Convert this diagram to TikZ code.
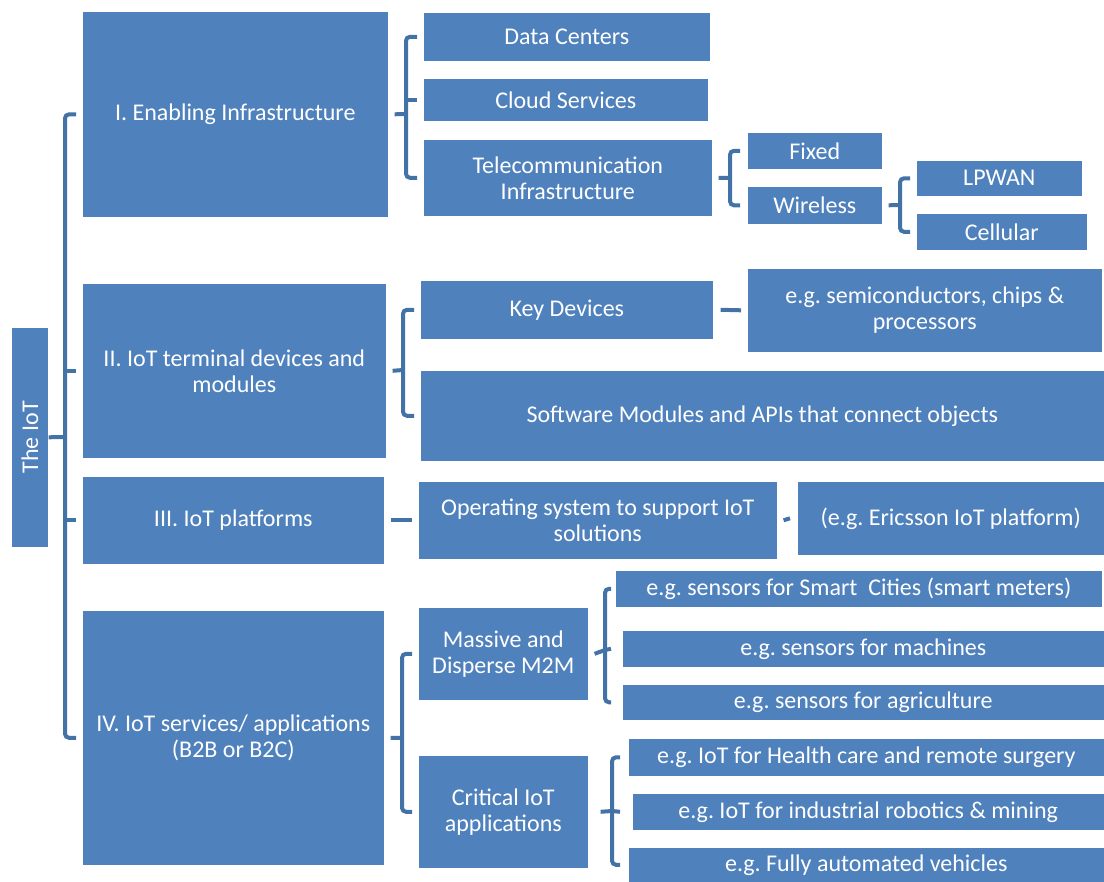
\documentclass[tikz,border=0pt]{standalone}
\usepackage{fontspec}
\setmainfont{Carlito}
\frenchspacing
\definecolor{cajaazul}{RGB}{79,129,189}
\definecolor{lineaazul}{RGB}{66,114,166}

\begin{document}
\begin{tikzpicture}[x=1pt,y=-1pt,
    caja/.style={fill=cajaazul,draw=white,line width=.6pt,text=white,align=center,
        anchor=north west,inner sep=0pt,font=\fontsize{24}{26}\selectfont},
    llave/.style={draw=lineaazul,line width=4pt,rounded corners=4pt}]
    \useasboundingbox (0,0) rectangle (1104,882);

    % Raiz y primer nivel.
    \node[caja,minimum width=37pt,minimum height=220pt] (iot) at (11,327) {};
    \node[white,rotate=90,font=\fontsize{24}{26}\selectfont] (iottxt) at (iot.center) {The IoT};
    \node[caja,minimum width=306pt,minimum height=206pt] (infra) at (82,11) {I. Enabling Infrastructure};
    \node[caja,minimum width=304pt,minimum height=175pt] (term) at (82,283) {II. IoT terminal devices and\\modules};
    \node[caja,minimum width=302pt,minimum height=88pt] (plat) at (82,476) {III. IoT platforms};
    \node[caja,minimum width=302pt,minimum height=255pt] (serv) at (82,610) {IV. IoT services/ applications\\(B2B or B2C)};

    % Infraestructura.
    \node[caja,minimum width=287pt,minimum height=49pt] (dc) at (423,12) {Data Centers};
    \node[caja,minimum width=285pt,minimum height=43pt] (cloud) at (423,78) {Cloud Services};
    \node[caja,minimum width=289pt,minimum height=77pt] (tele) at (423,139) {Telecommunication\\Infrastructure};
    \node[caja,minimum width=135pt,minimum height=37pt] (fixed) at (747,132) {Fixed};
    \node[caja,minimum width=135pt,minimum height=38pt] (wless) at (747,186) {Wireless};
    \node[caja,minimum width=166pt,minimum height=36pt] (lpwan) at (916,160) {LPWAN};
    \node[caja,minimum width=171pt,minimum height=37pt] (cell) at (916,213) {Cellular};

    % Dispositivos y modulos.
    \node[caja,minimum width=293pt,minimum height=59pt] (keydev) at (420,280) {Key Devices};
    \node[caja,minimum width=355pt,minimum height=84pt] (semi) at (747,268) {e.g. semiconductors, chips \&\\processors};
    \node[caja,minimum width=684pt,minimum height=91pt] (soft) at (420,370) {Software Modules and APIs that connect objects};

    % Plataformas.
    \node[caja,minimum width=359pt,minimum height=78pt] (os) at (418,481) {Operating system to support IoT\\solutions};
    \node[caja,minimum width=307pt,minimum height=74pt] (eric) at (797,481) {(e.g. Ericsson IoT platform)};

    % Servicios y aplicaciones.
    \node[caja,minimum width=170pt,minimum height=93pt] (m2m) at (418,607) {Massive and\\Disperse M2M};
    \node[caja,minimum width=487pt,minimum height=37pt] (city) at (615,570) {e.g. sensors for Smart~~Cities (smart meters)};
    \node[caja,minimum width=482pt,minimum height=37pt] (mach) at (622,630) {e.g. sensors for machines};
    \node[caja,minimum width=482pt,minimum height=36pt] (agri) at (622,684) {e.g. sensors for agriculture};
    \node[caja,minimum width=170pt,minimum height=113pt] (crit) at (418,755) {Critical IoT\\applications};
    \node[caja,minimum width=476pt,minimum height=38pt] (health) at (628,738) {e.g. IoT for Health care and remote surgery};
    \node[caja,minimum width=472pt,minimum height=37pt] (robot) at (632,793) {e.g. IoT for industrial robotics \& mining};
    \node[caja,minimum width=476pt,minimum height=35pt] (auto) at (628,847) {e.g. Fully automated vehicles};

    % Llaves.
    \coordinate (kraiz) at (65,437);
    \draw[llave] (iot.east) -- (kraiz);
    \draw[llave] ([xshift=-6pt]infra.west) -| (kraiz) |- ([xshift=-6pt]serv.west);
    \foreach \n in {term,plat}
        \draw[llave] (kraiz |- \n.west) -- ([xshift=-6pt]\n.west);

    \coordinate (kinfra) at (406,114);
    \draw[llave] ([xshift=6pt]infra.east) -- (kinfra);
    \draw[llave] ([xshift=-6pt]dc.west) -| (kinfra) |- ([xshift=-6pt]tele.west);
    \draw[llave] (kinfra |- cloud.west) -- ([xshift=-6pt]cloud.west);

    \coordinate (ktele) at (730,178);
    \draw[llave] ([xshift=6pt]tele.east) -- (ktele);
    \draw[llave] ([xshift=-7pt]fixed.west) -| (ktele) |- ([xshift=-7pt]wless.west);

    \coordinate (kwless) at (900,205);
    \draw[llave] ([xshift=6pt]wless.east) -- (kwless);
    \draw[llave] ([xshift=-6pt]lpwan.west) -| (kwless) |- ([xshift=-6pt]cell.west);

    \coordinate (kterm) at (403,370);
    \draw[llave] ([xshift=6pt]term.east) -- (kterm);
    \draw[llave] ([xshift=-6pt]keydev.west) -| (kterm) |- ([xshift=-6pt]soft.west);
    \draw[llave] ([xshift=7pt]keydev.east) -- ([xshift=-6pt]semi.west);

    \draw[llave] ([xshift=6pt]plat.east) -- ([xshift=-6pt]os.west);
    \draw[llave] ([xshift=6pt]os.east) -- ([xshift=-7pt]eric.west);

    \coordinate (kserv) at (402,738);
    \draw[llave] ([xshift=6pt]serv.east) -- (kserv);
    \draw[llave] ([xshift=-6pt]m2m.west) -| (kserv) |- ([xshift=-6pt]crit.west);

    \coordinate (km2m) at (605,650);
    \draw[llave] ([xshift=6pt]m2m.east) -- (km2m);
    \draw[llave] ([xshift=-4pt]city.west) -| (km2m) |- ([xshift=-11pt]agri.west);
    \draw[llave] (km2m) -- ([xshift=-11pt]mach.west);

    \coordinate (kcrit) at (612,811);
    \draw[llave] ([xshift=12pt]crit.east) -- (kcrit);
    \draw[llave] ([xshift=-8pt]health.west) -| (kcrit) |- ([xshift=-8pt]auto.west);
    \draw[llave] (kcrit) -- ([xshift=-12pt]robot.west);
\end{tikzpicture}
\end{document}
